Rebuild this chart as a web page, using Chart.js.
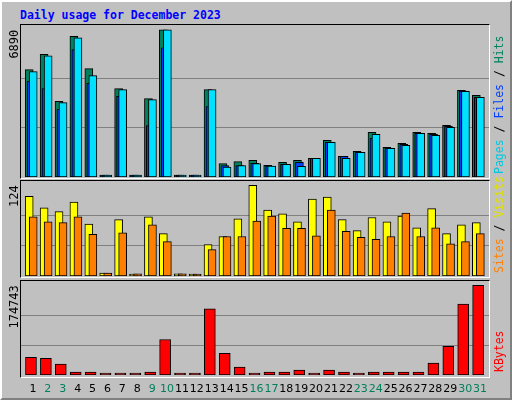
<!DOCTYPE html>
<html><head><meta charset="utf-8">
<script src="https://cdn.jsdelivr.net/npm/chart.js@4"></script>
<style>
body{margin:0;background:#fff}
#page{position:relative;width:508px;height:396px;background:#c0c0c0;border-top:2px solid #fff;border-left:2px solid #fff;border-right:2px solid #808080;border-bottom:2px solid #808080}
#title{position:absolute;left:18px;top:6px;font:bold 11.5px "DejaVu Sans Mono",monospace;color:#0000ff}
.frame{position:absolute;border-top:1px solid #000;border-left:1px solid #000;border-right:1px solid #fff;border-bottom:1px solid #fff}
canvas{position:absolute;left:0;top:0}
</style></head><body>
<div id="page">
<div id="title">Daily usage for December 2023</div>
<div class="frame" style="left:18px;top:22px;width:468px;height:153px"></div>
<div class="frame" style="left:18px;top:178px;width:468px;height:96px"></div>
<div class="frame" style="left:18px;top:278px;width:468px;height:96px"></div>
</div>
<canvas id="c1" width="512" height="400"></canvas>
<canvas id="c2" width="512" height="400"></canvas>
<canvas id="c3" width="512" height="400"></canvas>
<script>
// DATA
const days=[1,2,3,4,5,6,7,8,9,10,11,12,13,14,15,16,17,18,19,20,21,22,23,24,25,26,27,28,29,30,31];
const weekend=[2,3,9,10,16,17,23,24,30,31];
const hits=[5020,5736,3538,6578,5066,0,4131,0,3663,6890,0,0,4084,624,717,780,546,686,780,873,1715,966,1200,2089,1387,1574,2089,2042,2416,4053,3819];
const files=[4474,4131,3164,5955,4380,0,3772,0,2400,6048,0,0,3289,530,530,640,514,592,686,873,1621,966,1153,1808,1340,1528,2042,1995,2369,4022,3726];
const pages=[4926,5674,3476,6516,4739,0,4084,0,3616,6890,0,0,4084,468,530,623,514,592,499,873,1621,873,1153,1995,1340,1481,2042,1949,2323,4006,3726];
const visits=[109,93,88,101,71,4,77,2,81,58,3,1,43,54,78,124,90,85,74,105,108,77,62,80,74,82,66,92,58,70,73];
const sites=[81,74,73,81,57,4,59,3,70,47,3,1,36,54,54,75,82,65,65,55,90,61,53,50,54,86,54,66,44,47,58];
const kbytes=[34565,32644,21122,5761,5761,1500,1500,1500,5761,69130,1500,1500,128660,42246,15362,3840,5761,5761,9601,1500,9601,5761,3840,5761,5761,5761,5761,23043,55687,138260,174743];
const maxLabels=[6890,124,174743];

const FONT='"DejaVu Sans Mono",monospace';

function pts(arr,off){return arr.map((v,i)=>({x:days[i]+off,y:v}));}
function ds(arr,off,color,w,order){
  return {data:pts(arr,off),backgroundColor:color,borderColor:"#000",borderWidth:1,grouped:false,
    borderSkipped:false,barThickness:w,minBarLength:2,order};
}

// side labels + max label
function sidePlugin(max,parts,withDays){
  return {id:"side",afterDraw(ch){
    const c=ch.ctx, y=ch.scales.y, x=ch.scales.x, a=ch.chartArea;
    c.save();
    c.font="12px "+FONT; c.fillStyle="#000";
    c.translate(15,y.getPixelForValue(max)); c.rotate(-Math.PI/2);
    c.textAlign="right"; c.textBaseline="middle"; c.fillText(String(max),0,0);
    c.restore();
    c.save();
    c.font="11.5px "+FONT; c.translate(500,a.bottom-3); c.rotate(-Math.PI/2);
    c.textBaseline="middle"; let px=0;
    parts.forEach(([t,col])=>{c.fillStyle=col;c.fillText(t,px,0);px+=c.measureText(t).width;});
    c.restore();
    if(withDays){
      c.save(); c.font="11px 'DejaVu Sans',sans-serif"; c.textAlign="center"; c.textBaseline="middle";
      days.forEach(d=>{c.fillStyle=weekend.includes(d)?"#00805c":"#000";c.fillText(String(d),x.getPixelForValue(d),389);});
      c.restore();
    }
  }};
}

function makeChart(id,datasets,max,scale,pad,parts,withDays){
  return new Chart(document.getElementById(id),{
    type:"bar",
    data:{datasets},
    options:{responsive:false,animation:false,
      layout:{padding:pad},
      plugins:{legend:{display:false},tooltip:{enabled:false}},
      scales:{
        x:{type:"linear",min:0.2,max:31.6,offset:false,display:false},
        y:{min:0,max:max*scale,border:{display:false},
          ticks:{display:false},grid:{color:"#808080",drawTicks:false,lineWidth:1},
          afterBuildTicks(s){s.ticks=[{value:max/3},{value:2*max/3}];}}
      }},
    plugins:[sidePlugin(max,parts,withDays)]
  });
}

makeChart("c1",[ds(hits,-0.25,"#00805c",8,2),ds(files,-0.12,"#0040ff",8,1),ds(pages,0.02,"#00e0ff",8,0)],
  maxLabels[0],1.032,{left:21,right:23,top:25,bottom:223},
  [["Pages","#00c8e0"],[" / ","#000"],["Files","#0040ff"],[" / ","#000"],["Hits","#00805c"]],false);
makeChart("c2",[ds(visits,-0.25,"#ffff00",8,1),ds(sites,0.02,"#ff8000",8,0)],
  maxLabels[1],1.047,{left:21,right:23,top:181,bottom:124},
  [["Sites","#ff8000"],[" / ","#000"],["Visits","#e0e000"]],false);
makeChart("c3",[ds(kbytes,-0.13,"#ff0000",11,0)],
  maxLabels[2],1.047,{left:21,right:23,top:281,bottom:25},
  [["KBytes","#ff0000"]],true);
</script>
</body></html>
